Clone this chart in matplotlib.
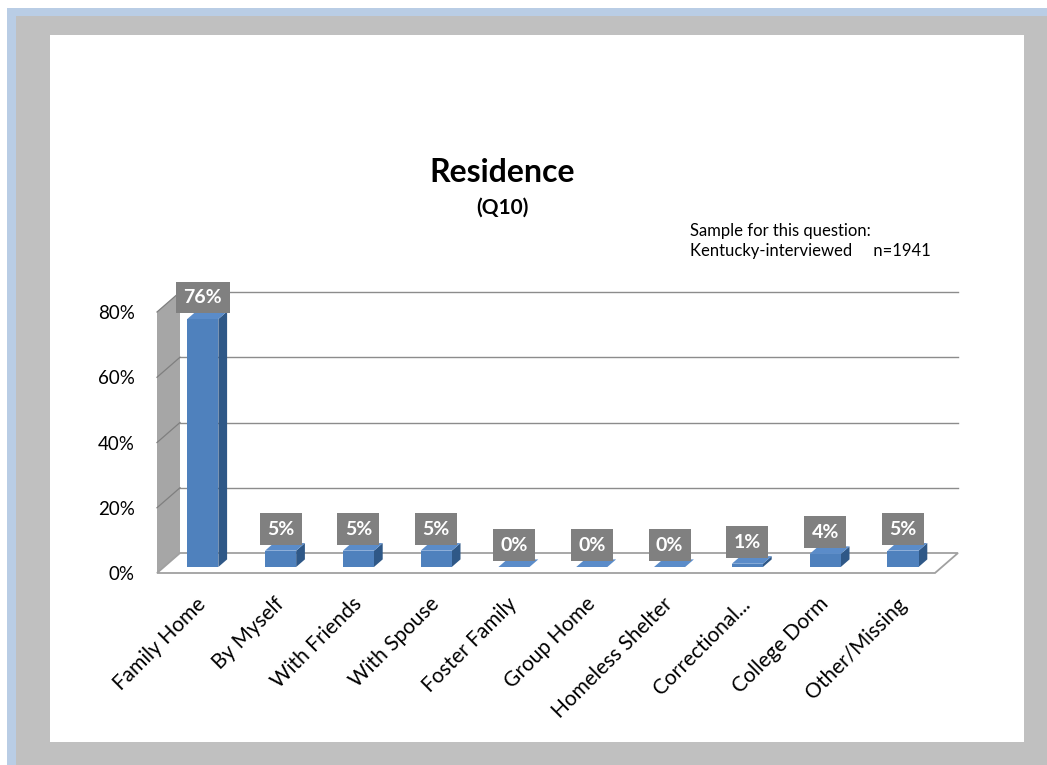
import numpy as np
import matplotlib.pyplot as plt
from matplotlib.patches import Polygon, Rectangle

plt.rcParams['font.family'] = ['Lato', 'DejaVu Sans']

categories = ['Family Home', 'By Myself', 'With Friends', 'With Spouse', 'Foster Family',
              'Group Home', 'Homeless Shelter', 'Correctional...', 'College Dorm', 'Other/Missing']
shares = [76, 5, 5, 5, 0, 0, 0, 1, 4, 5]
y_ticks = [0, 20, 40, 60, 80]
y_tick_labels = ['0%', '20%', '40%', '60%', '80%']
title = 'Residence'
subtitle = '(Q10)'
sample_note = 'Sample for this question:\nKentucky-interviewed     n=1941'

W, H = 1047, 765
fig = plt.figure(figsize=(W / 100, H / 100), dpi=100)
fig.patch.set_facecolor('white')

# slide frame: blue band, grey mat, white slide
def px_rect(x0, y0, x1, y1, color):
    fig.patches.append(Rectangle((x0 / W, 1 - y1 / H), (x1 - x0) / W, (y1 - y0) / H,
                                 transform=fig.transFigure, facecolor=color,
                                 edgecolor='none', zorder=-10))

px_rect(7, 8, W, H, '#B9CDE5')
px_rect(16, 16, W, H, '#C0C0C0')
px_rect(50, 35, 1024, 742, 'white')

# front plane of the plot box in pixels
left_px, right_px, base_px, top_px = 157, 935, 573, 312
ax = fig.add_axes([left_px / W, 1 - base_px / H, (right_px - left_px) / W, (base_px - top_px) / H])
ax.set_xlim(-0.5, len(categories) - 0.5)
ax.set_ylim(0, 80)
ax.patch.set_alpha(0)
for s in ax.spines.values():
    s.set_visible(False)

# depth of the floor (23 px right, 20 px up) in data units
DX = 23 * (len(categories)) / (right_px - left_px)
DY = 20 * 80 / (base_px - top_px)
x0, x1 = -0.5, len(categories) - 0.5
ytop = y_ticks[-1]

# side wall
ax.add_patch(Polygon([(x0, 0), (x0 + DX, DY), (x0 + DX, ytop + DY), (x0, ytop)],
                     closed=True, facecolor='#A6A6A6', edgecolor='none', clip_on=False, zorder=1))
for v in y_ticks[1:]:
    ax.plot([x0, x0 + DX], [v, v + DY], color='#7F7F7F', lw=0.9, clip_on=False, zorder=2)
    ax.plot([x0 + DX, x1 + DX], [v + DY, v + DY], color='#8C8C8C', lw=1.0, clip_on=False, zorder=1)

# floor
ax.add_patch(Polygon([(x0, 0), (x1, 0), (x1 + DX, DY), (x0 + DX, DY)], closed=True,
                     facecolor='white', edgecolor='#A0A0A0', lw=1.3, clip_on=False, zorder=1))

# bars with a shallow depth
bw = 0.40
d0, d1 = 0.30, 0.68
for i, v in enumerate(shares):
    fx, fy = d0 * DX, d0 * DY
    bx, by = d1 * DX, d1 * DY
    l, r = i - bw / 2, i + bw / 2
    ax.add_patch(Polygon([(r + fx, fy), (r + bx, by), (r + bx, v + by), (r + fx, v + fy)],
                         closed=True, facecolor='#2F5887', edgecolor='none', clip_on=False, zorder=3))
    ax.add_patch(Polygon([(l + fx, fy), (r + fx, fy), (r + fx, v + fy), (l + fx, v + fy)],
                         closed=True, facecolor='#4F81BD', edgecolor='none', clip_on=False, zorder=4))
    ax.add_patch(Polygon([(l + fx, v + fy), (r + fx, v + fy), (r + bx, v + by), (l + bx, v + by)],
                         closed=True, facecolor='#5B8CC9', edgecolor='none', clip_on=False, zorder=4))
    ax.annotate(f'{v}%', xy=(i + fx, v + by), xytext=(0, 4), textcoords='offset points',
                ha='center', va='bottom', fontsize=14, fontweight='bold', color='white',
                bbox=dict(boxstyle='square,pad=0.38', facecolor='#808080', edgecolor='none'),
                zorder=6, annotation_clip=False)

ax.set_yticks(y_ticks)
ax.set_yticklabels(y_tick_labels, fontsize=13.5)
ax.tick_params(axis='y', length=0, pad=16)
ax.set_xticks(range(len(categories)))
ax.set_xticklabels(categories, fontsize=15, rotation=45, ha='right', rotation_mode='anchor')
ax.tick_params(axis='x', length=0, pad=15)

fig.text(502 / W, 1 - 172 / H, title, ha='center', va='center', fontsize=23, fontweight='bold')
fig.text(502 / W, 1 - 208 / H, subtitle, ha='center', va='center', fontsize=15, fontweight='bold')
fig.text(690 / W, 1 - 241 / H, sample_note, ha='left', va='center', fontsize=12, linespacing=1.3)

fig.savefig('out.png', dpi=100)
